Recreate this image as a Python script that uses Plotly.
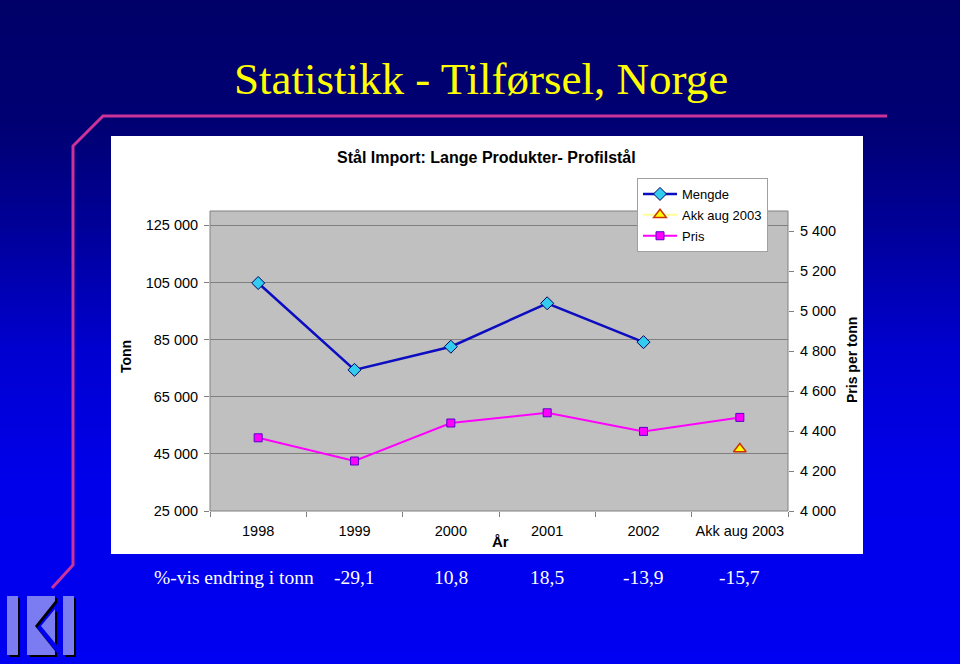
"""Slide: Stål import, lange produkter - profilstål (mengde og pris per år)."""
import plotly.graph_objects as go

W, H = 960, 664

YEARS = ["1998", "1999", "2000", "2001", "2002", "Akk aug 2003"]
MENGDE = [104800, 74400, 82500, 97700, 84100, None]
AKK_AUG_2003 = [None, None, None, None, None, 46700]
PRIS = [4366, 4250, 4440, 4491, 4398, 4468]

ENDRING_YEARS = ["1999", "2000", "2001", "2002", "Akk aug 2003"]
ENDRING_PCT = [-29.1, 10.8, 18.5, -13.9, -15.7]

TONN_TICKS = [25000, 45000, 65000, 85000, 105000, 125000]
PRIS_TICKS = [4000, 4200, 4400, 4600, 4800, 5000, 5200, 5400]

# blue channel of the slide background, top to bottom (pixel row, value)
BG_STOPS = [(0, 0x68), (130, 0x74), (230, 0x9a), (350, 0xd0), (480, 0xea), (664, 0xf2)]


def px(x, y):
    return x / W, 1 - y / H


def _blue_at(row):
    for (y0, b0), (y1, b1) in zip(BG_STOPS, BG_STOPS[1:]):
        if y0 <= row <= y1:
            return round(b0 + (b1 - b0) * (row - y0) / (y1 - y0))
    return BG_STOPS[-1][1]


def paper_rect(x0, y0, x1, y1, color, line=None):
    a, b = px(x0, y0)
    c, d = px(x1, y1)
    return dict(type="rect", xref="paper", yref="paper", x0=a, y0=d, x1=c, y1=b,
                fillcolor=color, line=line or dict(width=0), layer="below")


def paper_path(points, color, line=None):
    parts = []
    for i, (x, y) in enumerate(points):
        a, b = px(x, y)
        parts.append(("M" if i == 0 else "L") + f"{a:.5f},{b:.5f}")
    return dict(type="path", xref="paper", yref="paper", path=" ".join(parts) + " Z",
                fillcolor=color, line=line or dict(width=0), layer="below")


def background_shapes():
    shapes = []
    step = 4
    for row in range(0, H, step):
        b = _blue_at(row + step / 2)
        shapes.append(paper_rect(0, row, W, row + step + 0.5, f"rgb(0,0,{b})"))

    # decorative magenta frame line
    pts = [(887, 116), (103, 116), (73, 146), (73, 565), (52, 588)]
    path = " ".join(("M" if i == 0 else "L") + "{:.5f},{:.5f}".format(*px(x, y)) for i, (x, y) in enumerate(pts))
    shapes.append(dict(type="path", xref="paper", yref="paper", path=path,
                       line=dict(color="#cc3399", width=3), layer="below"))

    # logo bottom-left
    light = "#7b7bf2"
    for dx, color in ((2, "black"), (0, light)):
        shapes.append(paper_rect(7 + dx, 596 + dx, 18 + dx, 655 + dx, color))
        shapes.append(paper_rect(63 + dx, 596 + dx, 74 + dx, 655 + dx, color))
        shapes.append(paper_path([(27 + dx, 596 + dx), (55 + dx, 596 + dx), (55 + dx, 601 + dx),
                                  (35 + dx, 626 + dx), (55 + dx, 651 + dx), (55 + dx, 655 + dx),
                                  (27 + dx, 655 + dx)], color))
        shapes.append(paper_path([(41 + dx, 626 + dx), (55 + dx, 609 + dx), (55 + dx, 643 + dx)], color))

    # white chart area and grey plot area
    shapes.append(paper_rect(111, 136, 863, 554, "white"))
    shapes.append(dict(type="rect", xref="x domain", yref="y domain", x0=0, y0=0, x1=1, y1=1,
                       fillcolor="#c0c0c0", line=dict(width=0), layer="below"))
    shapes.append(dict(type="rect", xref="x domain", yref="y domain", x0=0, y0=0, x1=1, y1=1,
                       line=dict(color="#808080", width=1), layer="above"))
    return shapes


def annotations():
    notes = []

    def text(x, y, s, size, color="black", family="Arial", bold=False, angle=0, xanchor="center"):
        a, b = px(x, y)
        notes.append(dict(x=a, y=b, xref="paper", yref="paper", text=f"<b>{s}</b>" if bold else s,
                          showarrow=False, textangle=angle, xanchor=xanchor, yanchor="middle",
                          font=dict(size=size, color=color, family=family)))

    text(481, 79, "Statistikk - Tilførsel, Norge", 45, color="#ffff00", family="Liberation Serif")
    text(486, 157, "Stål Import: Lange Produkter- Profilstål", 16, bold=True)
    text(126, 357, "Tonn", 14, bold=True, angle=-90)
    text(852, 360, "Pris per tonn", 14, bold=True, angle=-90)
    text(500, 541, "År", 15, bold=True)
    text(152, 577, "%-vis endring i tonn", 19.5, color="white", family="Liberation Serif", xanchor="left")

    _, row_y = px(0, 577)
    for year, pct in zip(ENDRING_YEARS, ENDRING_PCT):
        notes.append(dict(x=YEARS.index(year), y=row_y, xref="x", yref="paper",
                          text=f"{pct:.1f}".replace(".", ","), showarrow=False, yanchor="middle",
                          font=dict(size=19.5, color="white", family="Liberation Serif")))
    return notes


fig = go.Figure()
fig.add_trace(go.Scatter(
    x=YEARS, y=MENGDE, name="Mengde", mode="lines+markers", legendgroup="a",
    line=dict(color="#0c0cc0", width=2.5),
    marker=dict(symbol="diamond", size=10, color="#33ccee", line=dict(color="#000060", width=1)),
))
fig.add_trace(go.Scatter(
    x=YEARS, y=AKK_AUG_2003, name="Akk aug 2003", mode="lines+markers", legendgroup="b",
    line=dict(color="#ffff99", width=2),
    marker=dict(symbol="triangle-up", size=11, color="#ffff00", line=dict(color="#cc3300", width=1.5)),
))
fig.add_trace(go.Scatter(
    x=YEARS, y=PRIS, name="Pris", mode="lines+markers", yaxis="y2", legendgroup="c",
    line=dict(color="#ff00ff", width=2),
    marker=dict(symbol="square", size=8, color="#ff00ff", line=dict(color="#5a00c8", width=1)),
))

x0, y_top = px(210, 211)
x1, y_bot = px(788, 511)
tick_font = dict(family="Arial", size=14.5, color="black")
lx, ly = px(637, 178)

fig.update_layout(
    width=W, height=H, autosize=False,
    margin=dict(l=0, r=0, t=0, b=0, pad=0, autoexpand=False),
    paper_bgcolor="#000080", plot_bgcolor="rgba(0,0,0,0)",
    separators=", ",
    shapes=background_shapes(),
    annotations=annotations(),
    xaxis=dict(domain=[x0, x1], type="category", categoryorder="array", categoryarray=YEARS,
               range=[-0.5, len(YEARS) - 0.5], ticks="outside", tickson="boundaries", ticklen=5,
               tickcolor="#808080", showgrid=False, zeroline=False, showline=False, tickangle=0,
               tickfont=tick_font, ticklabelstandoff=9, fixedrange=True, automargin=False),
    yaxis=dict(domain=[y_bot, y_top], range=[25000, 130000], tickvals=TONN_TICKS, tickformat=",.0f",
               ticks="outside", ticklen=5, tickcolor="#808080", showgrid=True, gridcolor="#808080",
               gridwidth=1, zeroline=False, showline=False, tickfont=tick_font, ticklabelstandoff=3,
               fixedrange=True, automargin=False),
    yaxis2=dict(overlaying="y", side="right", anchor="x", range=[4000, 5500], tickvals=PRIS_TICKS,
                tickformat=",.0f", ticks="outside", ticklen=5, tickcolor="#808080", showgrid=False,
                zeroline=False, showline=False, tickfont=tick_font, ticklabelstandoff=3,
                fixedrange=True, automargin=False),
    legend=dict(x=lx, y=ly, xanchor="left", yanchor="top", bgcolor="white", bordercolor="#a0a0a0",
                borderwidth=1, font=dict(family="Arial", size=13, color="black"),
                tracegroupgap=1, itemwidth=34),
    showlegend=True,
)

fig.write_html(
    "out.html",
    config={"responsive": False, "displayModeBar": False},
    post_script="document.body.style.margin='0';document.body.style.overflow='hidden';",
)
